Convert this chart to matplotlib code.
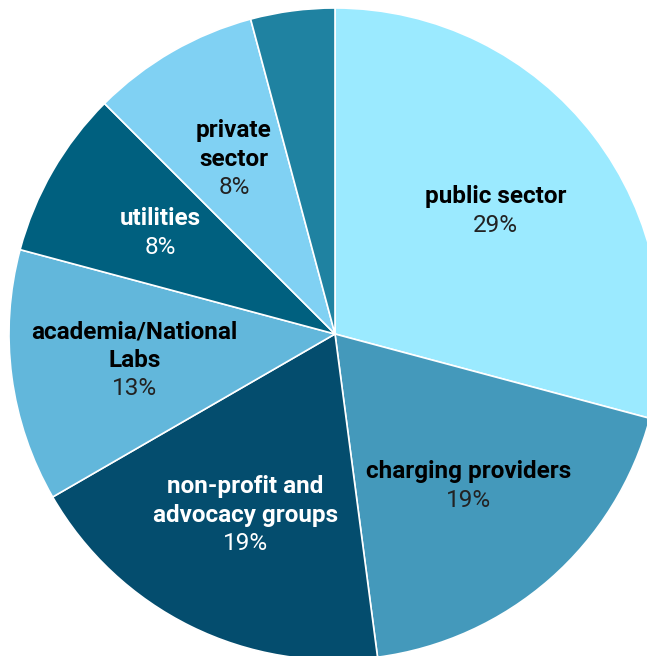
import numpy as np
import matplotlib.pyplot as plt

names = ["public sector", "charging providers", "non-profit and\nadvocacy groups",
         "academia/National\nLabs", "utilities", "private\nsector", ""]
counts = [14, 9, 9, 6, 4, 4, 2]
colors = ["#9beaff", "#4499bb", "#044d6e", "#62b7db", "#00607f", "#80d1f3", "#1f82a1"]
text_colors = ["black", "black", "white", "black", "white", "black", "white"]


def main():
    fig = plt.figure(figsize=(6.47, 6.56), dpi=100)
    ax = fig.add_axes([0, 0, 1, 1])
    wedges, _ = ax.pie(counts, colors=colors, startangle=90, counterclock=False,
                       wedgeprops=dict(edgecolor="white", linewidth=1.2))
    ax.set_xlim(-335 / 326, (647 - 335) / 326)
    ax.set_ylim((334 - 656) / 326, 334 / 326)
    ax.set_aspect("auto")
    ax.axis("off")

    total = sum(counts)
    L = 28.5 * 72 / 100  # line height in points
    for w, name, c, tc in zip(wedges, names, counts, text_colors):
        if not name:
            continue
        pct = int(np.floor(100 * c / total + 0.5))
        mid = np.deg2rad((w.theta1 + w.theta2) / 2)
        x, y = 0.62 * np.cos(mid), 0.62 * np.sin(mid)
        n = name.count("\n") + 1
        ax.annotate(name, (x, y), xytext=(0, L / 2), textcoords="offset points",
                    ha="center", va="center", fontsize=17.5, fontweight="bold",
                    family="Roboto", color=tc, linespacing=1.33)
        ax.annotate(f"{pct}%", (x, y), xytext=(0, -n / 2 * L), textcoords="offset points",
                    ha="center", va="center", fontsize=17.5, family="Roboto",
                    color="#222222" if tc == "black" else "white")

    fig.savefig("out.png", dpi=100)


if __name__ == "__main__":
    main()
